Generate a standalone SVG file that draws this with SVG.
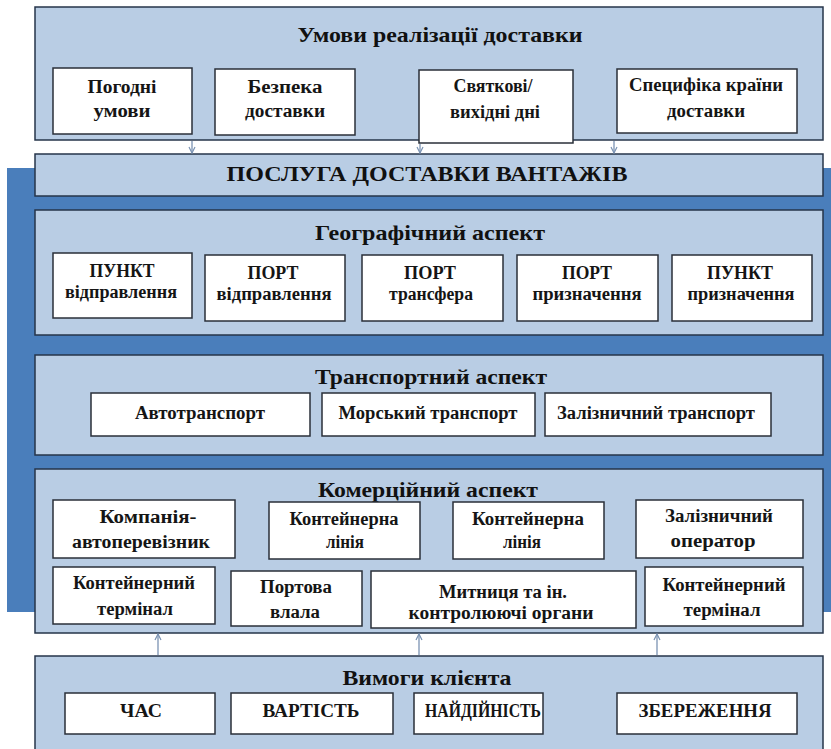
<svg xmlns="http://www.w3.org/2000/svg" width="831" height="749" viewBox="0 0 831 749">
  <style>
    .panel { fill: #b9cde4; stroke: #26344a; stroke-width: 1.5; }
    .box { fill: #ffffff; stroke: #2a2f38; stroke-width: 1.5; }
    text { font-family: 'Liberation Serif', 'Times New Roman', 'DejaVu Serif', serif; font-weight: bold; text-anchor: middle; }
    .title { font-size: 22px; fill: #111; }
    .label { font-size: 18px; fill: #151515; }
    .link { stroke: #7b93b3; stroke-width: 1.3; fill: none; marker-end: url(#tip); }
  </style>
  <defs>
    <marker id="tip" viewBox="0 0 8 8" refX="7" refY="4" markerWidth="8" markerHeight="8" markerUnits="userSpaceOnUse" orient="auto">
      <path d="M1,1 L7,4 L1,7" fill="none" stroke="#7b93b3" stroke-width="1.2"/>
    </marker>
  </defs>

  <rect width="831" height="749" fill="#ffffff"/>
  <!-- blue backdrop behind the central block -->
  <rect x="7" y="168" width="824" height="444" fill="#4a7ebb"/>

  <!-- Delivery conditions -->
  <g id="conditions">
    <rect class="panel" x="35" y="7" width="788" height="133"/>
    <text class="title" x="440" y="42" textLength="285" lengthAdjust="spacingAndGlyphs">Умови реалізації доставки</text>
    <g id="weather">
      <rect class="box" x="53" y="68" width="139" height="66"/>
      <text class="label" x="122" y="93" textLength="69" lengthAdjust="spacingAndGlyphs">Погодні</text>
      <text class="label" x="122" y="117" textLength="57" lengthAdjust="spacingAndGlyphs">умови</text>
    </g>
    <g id="safety">
      <rect class="box" x="215" y="69" width="140" height="66"/>
      <text class="label" x="285" y="93" textLength="75" lengthAdjust="spacingAndGlyphs">Безпека</text>
      <text class="label" x="285" y="117" textLength="80" lengthAdjust="spacingAndGlyphs">доставки</text>
    </g>
    <g id="holidays">
      <rect class="box" x="419" y="70" width="154" height="73"/>
      <text class="label" x="493" y="92" textLength="79" lengthAdjust="spacingAndGlyphs">Святкові/</text>
      <text class="label" x="495" y="118" textLength="90" lengthAdjust="spacingAndGlyphs">вихідні дні</text>
    </g>
    <g id="country">
      <rect class="box" x="617" y="69" width="180" height="64"/>
      <text class="label" x="706" y="91" textLength="154" lengthAdjust="spacingAndGlyphs">Специфіка країни</text>
      <text class="label" x="706" y="117" textLength="78" lengthAdjust="spacingAndGlyphs">доставки</text>
    </g>
  </g>

  <!-- Service -->
  <g id="service">
    <rect class="panel" x="35" y="154" width="788" height="42"/>
    <text class="title" x="427" y="181" font-size="21" textLength="401" lengthAdjust="spacingAndGlyphs">ПОСЛУГА ДОСТАВКИ ВАНТАЖІВ</text>
  </g>

  <!-- Geographic aspect -->
  <g id="geography">
    <rect class="panel" x="35" y="210" width="788" height="125"/>
    <text class="title" x="430" y="240" textLength="230" lengthAdjust="spacingAndGlyphs">Географічний аспект</text>
    <g id="origin-point">
      <rect class="box" x="53" y="253" width="139" height="65"/>
      <text class="label" x="122" y="277" textLength="65" lengthAdjust="spacingAndGlyphs">ПУНКТ</text>
      <text class="label" x="121" y="298" textLength="112" lengthAdjust="spacingAndGlyphs">відправлення</text>
    </g>
    <g id="origin-port">
      <rect class="box" x="205" y="255" width="140" height="66"/>
      <text class="label" x="273" y="279" textLength="51" lengthAdjust="spacingAndGlyphs">ПОРТ</text>
      <text class="label" x="274" y="300" textLength="115" lengthAdjust="spacingAndGlyphs">відправлення</text>
    </g>
    <g id="transfer-port">
      <rect class="box" x="362" y="255" width="141" height="66"/>
      <text class="label" x="430" y="279" textLength="52" lengthAdjust="spacingAndGlyphs">ПОРТ</text>
      <text class="label" x="431" y="300" textLength="84" lengthAdjust="spacingAndGlyphs">трансфера</text>
    </g>
    <g id="destination-port">
      <rect class="box" x="517" y="255" width="141" height="66"/>
      <text class="label" x="587" y="279" textLength="50" lengthAdjust="spacingAndGlyphs">ПОРТ</text>
      <text class="label" x="587" y="300" textLength="109" lengthAdjust="spacingAndGlyphs">призначення</text>
    </g>
    <g id="destination-point">
      <rect class="box" x="672" y="255" width="140" height="66"/>
      <text class="label" x="740" y="279" textLength="66" lengthAdjust="spacingAndGlyphs">ПУНКТ</text>
      <text class="label" x="741" y="300" textLength="107" lengthAdjust="spacingAndGlyphs">призначення</text>
    </g>
  </g>

  <!-- Transport aspect -->
  <g id="transport">
    <rect class="panel" x="35" y="355" width="788" height="100"/>
    <text class="title" x="431" y="384" textLength="232" lengthAdjust="spacingAndGlyphs">Транспортний аспект</text>
    <g id="road">
      <rect class="box" x="91" y="393" width="219" height="43"/>
      <text class="label" x="200" y="419" textLength="130" lengthAdjust="spacingAndGlyphs">Автотранспорт</text>
    </g>
    <g id="sea">
      <rect class="box" x="322" y="393" width="213" height="43"/>
      <text class="label" x="428" y="419" textLength="179" lengthAdjust="spacingAndGlyphs">Морський транспорт</text>
    </g>
    <g id="rail">
      <rect class="box" x="545" y="393" width="226" height="43"/>
      <text class="label" x="656" y="419" textLength="198" lengthAdjust="spacingAndGlyphs">Залізничний транспорт</text>
    </g>
  </g>

  <!-- Commercial aspect -->
  <g id="commercial">
    <rect class="panel" x="35" y="469" width="788" height="164"/>
    <text class="title" x="428" y="497" textLength="220" lengthAdjust="spacingAndGlyphs">Комерційний аспект</text>
    <g id="road-carrier">
      <rect class="box" x="53" y="500" width="182" height="58"/>
      <text class="label" x="148" y="523" textLength="97" lengthAdjust="spacingAndGlyphs">Компанія-</text>
      <text class="label" x="141" y="548" textLength="138" lengthAdjust="spacingAndGlyphs">автоперевізник</text>
    </g>
    <g id="container-line-1">
      <rect class="box" x="269" y="502" width="151" height="57"/>
      <text class="label" x="344" y="525" textLength="109" lengthAdjust="spacingAndGlyphs">Контейнерна</text>
      <text class="label" x="345" y="548" textLength="38" lengthAdjust="spacingAndGlyphs">лінія</text>
    </g>
    <g id="container-line-2">
      <rect class="box" x="453" y="502" width="151" height="57"/>
      <text class="label" x="528" y="525" textLength="112" lengthAdjust="spacingAndGlyphs">Контейнерна</text>
      <text class="label" x="522" y="548" textLength="38" lengthAdjust="spacingAndGlyphs">лінія</text>
    </g>
    <g id="rail-operator">
      <rect class="box" x="636" y="500" width="167" height="58"/>
      <text class="label" x="719" y="522" textLength="108" lengthAdjust="spacingAndGlyphs">Залізничний</text>
      <text class="label" x="713" y="547" textLength="85" lengthAdjust="spacingAndGlyphs">оператор</text>
    </g>
    <g id="container-terminal-1">
      <rect class="box" x="53" y="567" width="162" height="57"/>
      <text class="label" x="134" y="589" textLength="122" lengthAdjust="spacingAndGlyphs">Контейнерний</text>
      <text class="label" x="135" y="615" textLength="76" lengthAdjust="spacingAndGlyphs">термінал</text>
    </g>
    <g id="port-authority">
      <rect class="box" x="231" y="571" width="131" height="55"/>
      <text class="label" x="296" y="593" textLength="72" lengthAdjust="spacingAndGlyphs">Портова</text>
      <text class="label" x="295" y="618" textLength="50" lengthAdjust="spacingAndGlyphs">влала</text>
    </g>
    <g id="customs">
      <rect class="box" x="371" y="571" width="265" height="57"/>
      <text class="label" x="503" y="598" textLength="128" lengthAdjust="spacingAndGlyphs">Митниця та ін.</text>
      <text class="label" x="501" y="619" textLength="185" lengthAdjust="spacingAndGlyphs">контролюючі органи</text>
    </g>
    <g id="container-terminal-2">
      <rect class="box" x="645" y="567" width="158" height="59"/>
      <text class="label" x="724" y="591" textLength="123" lengthAdjust="spacingAndGlyphs">Контейнерний</text>
      <text class="label" x="722" y="616" textLength="77" lengthAdjust="spacingAndGlyphs">термінал</text>
    </g>
  </g>

  <!-- Client requirements -->
  <g id="requirements">
    <rect class="panel" x="35" y="656" width="788" height="100"/>
    <text class="title" x="427" y="685" textLength="169" lengthAdjust="spacingAndGlyphs">Вимоги клієнта</text>
    <g id="time">
      <rect class="box" x="65" y="693" width="150" height="41"/>
      <text class="label" x="141" y="717" textLength="42" lengthAdjust="spacingAndGlyphs">ЧАС</text>
    </g>
    <g id="cost">
      <rect class="box" x="231" y="693" width="162" height="41"/>
      <text class="label" x="311" y="717" textLength="97" lengthAdjust="spacingAndGlyphs">ВАРТІСТЬ</text>
    </g>
    <g id="reliability">
      <rect class="box" x="414" y="693" width="129" height="41"/>
      <text class="label" x="483" y="717" textLength="116" lengthAdjust="spacingAndGlyphs">НАЙДІЙНІСТЬ</text>
    </g>
    <g id="preservation">
      <rect class="box" x="617" y="693" width="180" height="41"/>
      <text class="label" x="705" y="717" textLength="133" lengthAdjust="spacingAndGlyphs">ЗБЕРЕЖЕННЯ</text>
    </g>
  </g>

  <!-- Connectors -->
  <g id="connectors">
    <line class="link" x1="192" y1="141" x2="192" y2="153"/>
    <line class="link" x1="420" y1="144" x2="420" y2="153"/>
    <line class="link" x1="614" y1="141" x2="614" y2="153"/>
    <line class="link" x1="158" y1="655" x2="158" y2="634"/>
    <line class="link" x1="419" y1="655" x2="419" y2="634"/>
    <line class="link" x1="657" y1="655" x2="657" y2="634"/>
  </g>
</svg>
